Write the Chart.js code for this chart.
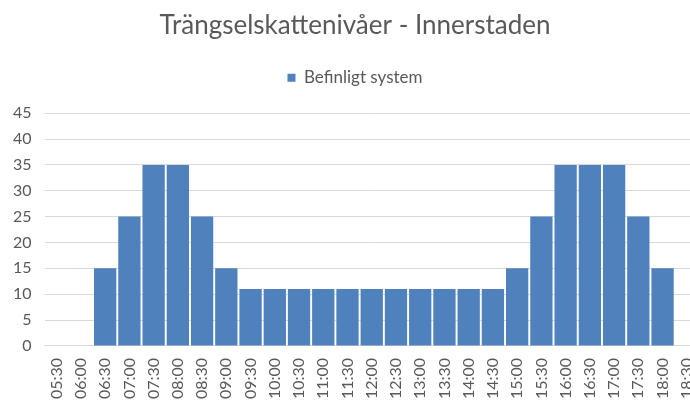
<!DOCTYPE html>
<html>
<head>
<meta charset="utf-8">
<script src="https://cdn.jsdelivr.net/npm/chart.js@4/dist/chart.umd.min.js"></script>
<style>
  html, body { margin: 0; padding: 0; background: #fff; overflow: hidden; }
  #wrap { width: 710px; height: 403px; }
</style>
</head>
<body>
<div id="wrap"><canvas id="c" width="710" height="403"></canvas></div>
<script>
// Trängselskatt per halvtimme, innerstaden
const times = ['05:30','06:00','06:30','07:00','07:30','08:00','08:30','09:00','09:30','10:00',
  '10:30','11:00','11:30','12:00','12:30','13:00','13:30','14:00','14:30','15:00',
  '15:30','16:00','16:30','17:00','17:30','18:00','18:30'];
const befintligt = [0,0,15,25,35,35,25,15,11,11,
  11,11,11,11,11,11,11,11,11,15,
  25,35,35,35,25,15,0];
const yMax = 45, yStep = 5;

const grey = '#595959';
const fam = 'Lato, "Open Sans", sans-serif';

// extra space under the legend
const legendGap = {
  id: 'legendGap',
  beforeInit(chart) {
    const fit = chart.legend.fit;
    chart.legend.fit = function () {
      fit.bind(chart.legend)();
      this.height += 17;
    };
  }
};

new Chart(document.getElementById('c'), {
  type: 'bar',
  data: {
    labels: times,
    datasets: [{
      label: 'Befinligt system',
      data: befintligt,
      backgroundColor: '#4f81bd',
      categoryPercentage: 0.92,
      barPercentage: 1
    }]
  },
  plugins: [legendGap],
  options: {
    responsive: false,
    animation: false,
    layout: { padding: { left: 0, right: 0, top: 6, bottom: 0 } },
    plugins: {
      title: {
        display: true,
        text: 'Trängselskattenivåer - Innerstaden',
        color: grey,
        font: { family: fam, size: 26, weight: 'normal' },
        padding: { top: 4, bottom: 18 }
      },
      legend: {
        position: 'top',
        labels: {
          color: grey,
          boxWidth: 8, boxHeight: 8,
          font: { family: fam, size: 17 },
          padding: 10
        }
      },
      tooltip: { enabled: false }
    },
    scales: {
      x: {
        grid: { display: false },
        border: { color: '#d9d9d9' },
        ticks: {
          color: grey,
          font: { family: fam, size: 16 },
          minRotation: 90, maxRotation: 90,
          autoSkip: false,
          padding: 4
        }
      },
      y: {
        min: 0, max: yMax,
        grid: { color: '#d9d9d9', drawTicks: false },
        border: { display: false },
        ticks: {
          stepSize: yStep,
          color: grey,
          font: { family: fam, size: 16 },
          padding: 13
        }
      }
    }
  }
});
</script>
</body>
</html>
